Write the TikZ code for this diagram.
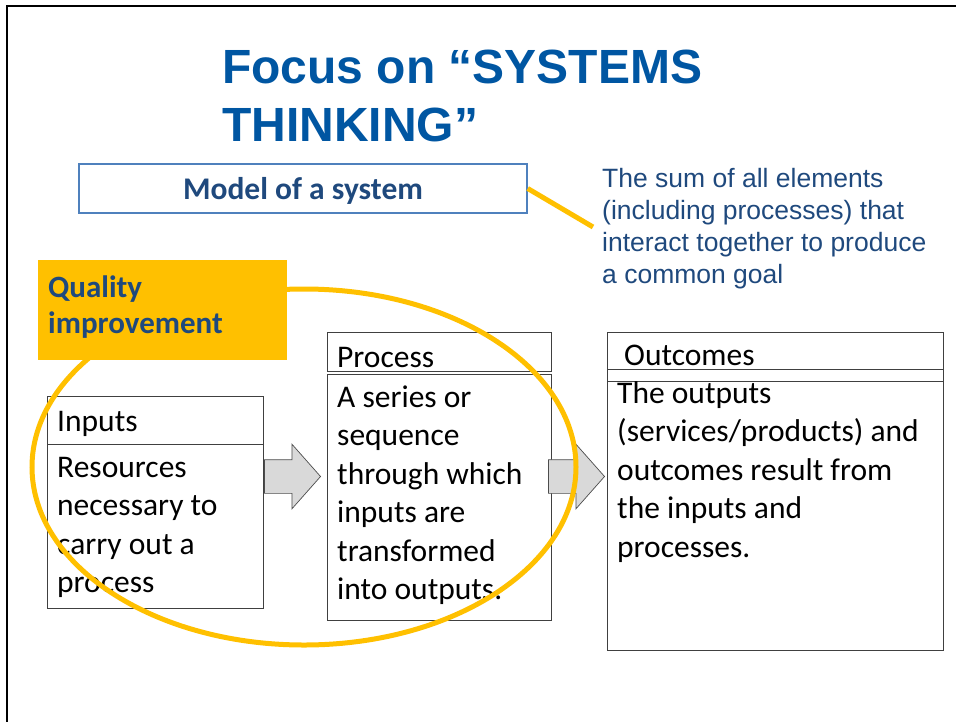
\documentclass[tikz,border=0pt]{standalone}
\usepackage{fontspec}
\setmainfont{Carlito}
\newfontfamily\arialf{Liberation Sans}
\usetikzlibrary{shapes.arrows,shapes.geometric}
\definecolor{qorange}{RGB}{255,192,0}
\definecolor{dblue}{RGB}{31,73,125}
\definecolor{tblue}{RGB}{0,86,162}
\definecolor{mblue}{RGB}{79,129,189}
\definecolor{agray}{RGB}{217,217,217}
\begin{document}
\begin{tikzpicture}[x=1pt,y=-1pt,
  box/.style={draw=black!75, line width=1pt, anchor=north west, inner sep=0pt},
  bodytext/.style={font=\fontsize{31.5}{38.5}\selectfont, align=left, anchor=base west, inner sep=0pt, text=black},
  qline/.style={draw=qorange, line width=5pt},
  blockarr/.style={single arrow, draw=black!70, fill=agray, line width=0.7pt,
    inner xsep=0pt, inner ysep=16.5pt, text height=0pt, text depth=0pt,
    minimum height=56pt, single arrow head extend=15.5pt,
    single arrow tip angle=97, anchor=tip}]
\useasboundingbox (0,0) rectangle (956,721);
% slide frame
\node[draw=black, line width=2pt, anchor=north west, minimum width=1000pt, minimum height=760pt, inner sep=0pt] (frame) at (6,5) {};
% title (anchor on last line baseline)
\node[font=\arialf\bfseries\fontsize{48}{58}\selectfont, text=tblue, align=left, anchor=base west, inner sep=0pt] (title) at (222,141) {Focus on “SYSTEMS\\THINKING”};
% model of a system
\node[draw=mblue, line width=1.5pt, minimum width=448pt, minimum height=49pt, inner sep=0pt] (model) at (303,188.5) {};
\node[font=\bfseries\fontsize{31.5}{36}\selectfont, text=dblue, anchor=base, inner sep=0pt] (modeltext) at (303,199) {Model of a system};
\coordinate (linkend) at (593,227);
\draw[qline] (model.east) -- (linkend);
\node[font=\arialf\fontsize{26.5}{31.7}\selectfont, text=dblue, align=left, anchor=base west, inner sep=0pt] (def) at (602,283)
  {The sum of all elements\\(including processes) that\\interact together to produce\\a common goal};
% inputs
\node[box, minimum width=216pt, minimum height=48pt] (inhead) at (47,396) {};
\node[box, minimum width=216pt, minimum height=164pt] (inbody) at (47,444) {};
\node[bodytext] (intitle) at (57,431) {Inputs};
\node[bodytext] (intext) at (57,592.5) {Resources\\necessary to\\carry out a\\process};
% process
\node[box, minimum width=224pt, minimum height=39pt] (prhead) at (327,332) {};
\node[box, minimum width=224pt, minimum height=246pt] (prbody) at (327,374) {};
\node[bodytext] (prtitle) at (337,367) {Process};
\node[bodytext] (prtext) at (337,599.5) {A series or\\sequence\\through which\\inputs are\\transformed\\into outputs.};
% outcomes
\node[box, minimum width=336pt, minimum height=318pt] (outbox) at (607,332) {};
\node[box, minimum width=336pt, minimum height=12pt] (outstrip) at (607,369) {};
\node[bodytext] (outtitle) at (624,365) {Outcomes};
\node[bodytext] (outtext) at (617,557) {The outputs\\(services/products) and\\outcomes result from\\the inputs and\\processes.};
% arrows
\node[blockarr] (arr1) at (321,476.5) {};
\node[blockarr] (arr2) at (605,476.5) {};
% quality ring
\node[draw=qorange, line width=5pt, ellipse, minimum width=544pt, minimum height=356pt, inner sep=0pt] (qiring) at (304,467) {};
% quality improvement box
\node[fill=qorange, anchor=north west, minimum width=249pt, minimum height=100pt, inner sep=0pt] (qibox) at (38,260) {};
\node[font=\bfseries\fontsize{31}{36}\selectfont, text=dblue, align=left, anchor=base west, inner sep=0pt] (qitext) at (48,333) {Quality\\improvement};
\end{tikzpicture}
\end{document}
